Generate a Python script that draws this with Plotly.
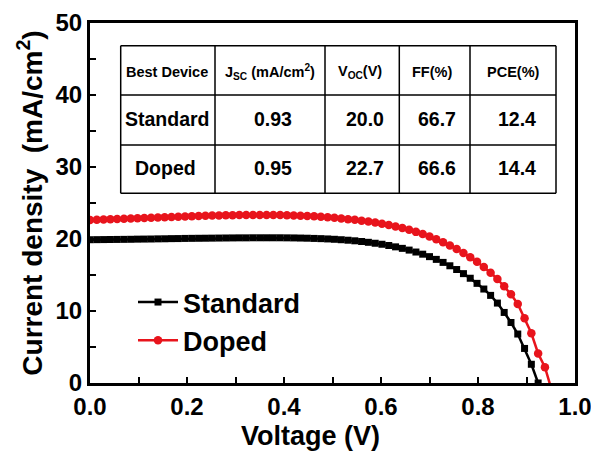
import plotly.graph_objects as go

# ---------------- data ----------------
voltage = [0.000, 0.014, 0.028, 0.042, 0.056, 0.070, 0.084, 0.098, 0.112, 0.126,
           0.140, 0.154, 0.168, 0.182, 0.196, 0.210, 0.224, 0.238, 0.252, 0.266,
           0.280, 0.294, 0.308, 0.322, 0.336, 0.350, 0.364, 0.378, 0.392, 0.406,
           0.420, 0.434, 0.448, 0.462, 0.476, 0.490, 0.504, 0.518, 0.532, 0.546,
           0.560, 0.574, 0.588, 0.602, 0.616, 0.630, 0.644, 0.658, 0.672, 0.686,
           0.700, 0.714, 0.728, 0.742, 0.756, 0.770, 0.784, 0.798, 0.812, 0.826,
           0.840, 0.854, 0.868, 0.882, 0.896, 0.910, 0.924, 0.938, 0.952]

standard_j = [19.90, 19.91, 19.92, 19.93, 19.94, 19.95, 19.96, 19.98, 19.99, 20.00,
              20.02, 20.03, 20.05, 20.06, 20.08, 20.09, 20.10, 20.11, 20.12, 20.13,
              20.14, 20.15, 20.16, 20.16, 20.17, 20.17, 20.17, 20.17, 20.17, 20.16,
              20.15, 20.13, 20.11, 20.08, 20.05, 20.01, 19.96, 19.90, 19.83, 19.75,
              19.65, 19.54, 19.41, 19.27, 19.10, 18.91, 18.70, 18.46, 18.19, 17.89,
              17.55, 17.17, 16.75, 16.28, 15.76, 15.19, 14.55, 13.84, 13.05, 12.17,
              11.10, 9.80, 8.40, 6.80, 4.80, 2.60, 0.00]

doped_j = [22.65, 22.68, 22.71, 22.74, 22.77, 22.80, 22.84, 22.87, 22.91, 22.95,
           22.98, 23.02, 23.06, 23.09, 23.13, 23.16, 23.19, 23.22, 23.25, 23.27,
           23.29, 23.31, 23.32, 23.33, 23.34, 23.34, 23.34, 23.33, 23.32, 23.30,
           23.27, 23.24, 23.20, 23.15, 23.09, 23.02, 22.94, 22.85, 22.75, 22.66,
           22.55, 22.42, 22.28, 22.12, 21.94, 21.74, 21.52, 21.27, 20.99, 20.68,
           20.34, 19.96, 19.55, 19.10, 18.61, 18.07, 17.48, 16.83, 16.11, 15.32,
           14.44, 13.45, 12.32, 10.98, 9.00, 6.90, 4.10, 2.20, -1.00]

x_ticks = [0.0, 0.2, 0.4, 0.6, 0.8, 1.0]
x_tick_labels = ["0.0", "0.2", "0.4", "0.6", "0.8", "1.0"]
y_ticks = [0, 10, 20, 30, 40, 50]

table_header = ["Best Device", "J<sub>SC</sub> (mA/cm<sup>2</sup>)",
                "V<sub>OC</sub>(V)", "FF(%)", "PCE(%)"]
table_rows = [["Standard", "0.93", "20.0", "66.7", "12.4"],
              ["Doped", "0.95", "22.7", "66.6", "14.4"]]

# ---------------- figure ----------------
FONT = "Liberation Sans, Arial, sans-serif"
RED = "#e8141c"

fig = go.Figure()
fig.add_trace(go.Scatter(
    x=voltage[:len(standard_j)], y=standard_j, name="Standard",
    mode="lines+markers", legendgroup="a",
    line=dict(color="black", width=2.5),
    marker=dict(symbol="square", size=7, color="black"),
    cliponaxis=True,
))
fig.add_trace(go.Scatter(
    x=voltage[:len(doped_j)], y=doped_j, name="Doped",
    mode="lines+markers", legendgroup="b",
    line=dict(color=RED, width=2.5),
    marker=dict(symbol="circle", size=8.5, color=RED),
    cliponaxis=True,
))

# plot area in pixels: x 90..575, y 23..383
L, R, T, B = 90, 575, 23, 383
W, H = 591, 454


def px(xpix):
    return (xpix - L) / (R - L)


def py(ypix):
    return (B - ypix) / (B - T)


col_edges = [120.7, 215, 325, 399.3, 470, 556]
row_edges = [45.7, 95, 145, 193.3]

shapes = []
for cx in col_edges:
    shapes.append(dict(type="line", xref="paper", yref="paper",
                       x0=px(cx), x1=px(cx), y0=py(row_edges[0]), y1=py(row_edges[-1]),
                       line=dict(color="black", width=1.5)))
for ry in row_edges:
    shapes.append(dict(type="line", xref="paper", yref="paper",
                       x0=px(col_edges[0]), x1=px(col_edges[-1]), y0=py(ry), y1=py(ry),
                       line=dict(color="black", width=1.5)))

annotations = []
header_y = 71.7
header_cx = [167, 270, 360, 432, 513]
for i, txt in enumerate(table_header):
    annotations.append(dict(xref="paper", yref="paper", x=px(header_cx[i]), y=py(header_y),
                            text=txt, showarrow=False, xanchor="center", yanchor="middle",
                            font=dict(family=FONT, size=14.5, color="black", weight="bold")))
row_y = [119, 168]
value_cx = [273, 365, 437, 517]
first_left = [123, 133]
for r, row in enumerate(table_rows):
    annotations.append(dict(xref="paper", yref="paper", x=px(first_left[r]),
                            y=py(row_y[r]), text=row[0], showarrow=False,
                            xanchor="left", yanchor="middle",
                            font=dict(family=FONT, size=19.5, color="black", weight="bold")))
    for i, txt in enumerate(row[1:]):
        annotations.append(dict(xref="paper", yref="paper", x=px(value_cx[i]), y=py(row_y[r]),
                                text=txt, showarrow=False, xanchor="center", yanchor="middle",
                                font=dict(family=FONT, size=19.5, color="black", weight="bold")))

# x-axis title (placed as in the reference, slightly left of centre)
annotations.append(dict(xref="paper", yref="paper", x=px(310), y=py(436),
                        text="Voltage (V)", showarrow=False, xanchor="center", yanchor="middle",
                        font=dict(family=FONT, size=27, color="black", weight="bold")))

fig.update_layout(
    width=W, height=H,
    margin=dict(l=L, r=W - R, t=T, b=H - B),
    paper_bgcolor="white", plot_bgcolor="white",
    font=dict(family=FONT, size=24, color="black", weight="bold"),
    showlegend=True,
    legend=dict(x=px(133), y=py(278), xanchor="left", yanchor="top",
                bgcolor="rgba(0,0,0,0)", borderwidth=0,
                font=dict(family=FONT, size=27, color="black", weight="bold"),
                traceorder="grouped", tracegroupgap=0, itemwidth=40),
    shapes=shapes,
    annotations=annotations,
)

fig.update_xaxes(
    range=[0, 1.0], tickvals=x_ticks, ticktext=x_tick_labels,
    showgrid=False, zeroline=False,
    showline=True, linecolor="black", linewidth=3, mirror=True,
    ticks="inside", ticklen=6, tickwidth=2, tickcolor="black",
    minor=dict(dtick=0.1, ticks="inside", ticklen=6, tickwidth=2, tickcolor="black", showgrid=False),
    tickfont=dict(family=FONT, size=24, color="black", weight="bold"),
    ticklabeloverflow="allow",
    automargin=False,
)
fig.update_yaxes(
    range=[0, 50], tickvals=y_ticks,
    showgrid=False, zeroline=False,
    showline=True, linecolor="black", linewidth=3, mirror=True,
    ticks="inside", ticklen=6, tickwidth=2, tickcolor="black",
    minor=dict(dtick=5, ticks="inside", ticklen=6, tickwidth=2, tickcolor="black", showgrid=False),
    tickfont=dict(family=FONT, size=24, color="black", weight="bold"),
    ticklabeloverflow="allow",
    title=dict(text="Current density  (mA/cm<sup>2</sup>)", standoff=5,
               font=dict(family=FONT, size=28, color="black", weight="bold")),
    automargin=False,
)

fig.write_html("out.html")
